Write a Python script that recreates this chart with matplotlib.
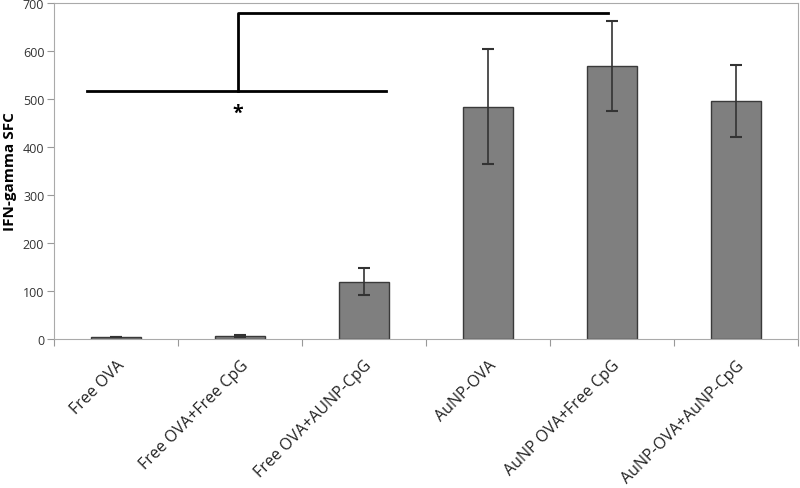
import matplotlib
matplotlib.use("Agg")
import matplotlib.pyplot as plt
import numpy as np

# values
groups = ["Free OVA", "Free OVA+Free CpG", "Free OVA+AUNP-CpG",
          "AuNP-OVA", "AuNP OVA+Free CpG", "AuNP-OVA+AuNP-CpG"]
sfc = [3, 6, 119, 484, 568, 496]
sfc_err = [0, 3, 28, 120, 94, 75]

plt.rcParams['font.family'] = ['Open Sans', 'DejaVu Sans']

fig = plt.figure(figsize=(8, 4.89), dpi=100)
ax = fig.add_axes([0.0675, 0.305, 0.93, 0.687])

x = np.arange(len(groups))
ax.bar(x, sfc, width=0.4, color='#7f7f7f', edgecolor='#3a3a3a', linewidth=1.0,
       yerr=sfc_err, error_kw=dict(ecolor='#333333', elinewidth=1.2, capsize=4, capthick=1.5))

ax.set_xlim(-0.5, 5.5)
ax.set_ylim(0, 700)
ax.set_yticks(range(0, 701, 100))
ax.set_xticks(np.arange(-0.5, 5.6, 1.0))
ax.set_xticklabels([])
ax.set_xticks(x, minor=True)
ax.set_xticklabels(groups, minor=True, rotation=45, ha='right', rotation_mode='anchor',
                   fontsize=11.5, color='#222222')
ax.tick_params(axis='x', which='minor', length=0, pad=13)
ax.tick_params(axis='x', which='major', length=5, color='#999999', direction='out')
ax.tick_params(axis='y', length=5, color='#999999', labelsize=9, pad=2, labelcolor='#333333')
for s in ax.spines.values():
    s.set_color('#aaaaaa')
ax.set_ylabel('IFN-gamma SFC', fontsize=11, fontweight='bold')
ax.yaxis.set_label_coords(-0.05, 0.5)

# significance brackets
ax.plot([-0.23, 2.18], [517, 517], color='black', lw=2)
ax.plot([0.98, 0.98, 3.97], [517, 680, 680], color='black', lw=2)
ax.text(0.98, 470, '*', ha='center', va='center', fontsize=14, fontweight='bold')

fig.savefig('out.png', dpi=100)
